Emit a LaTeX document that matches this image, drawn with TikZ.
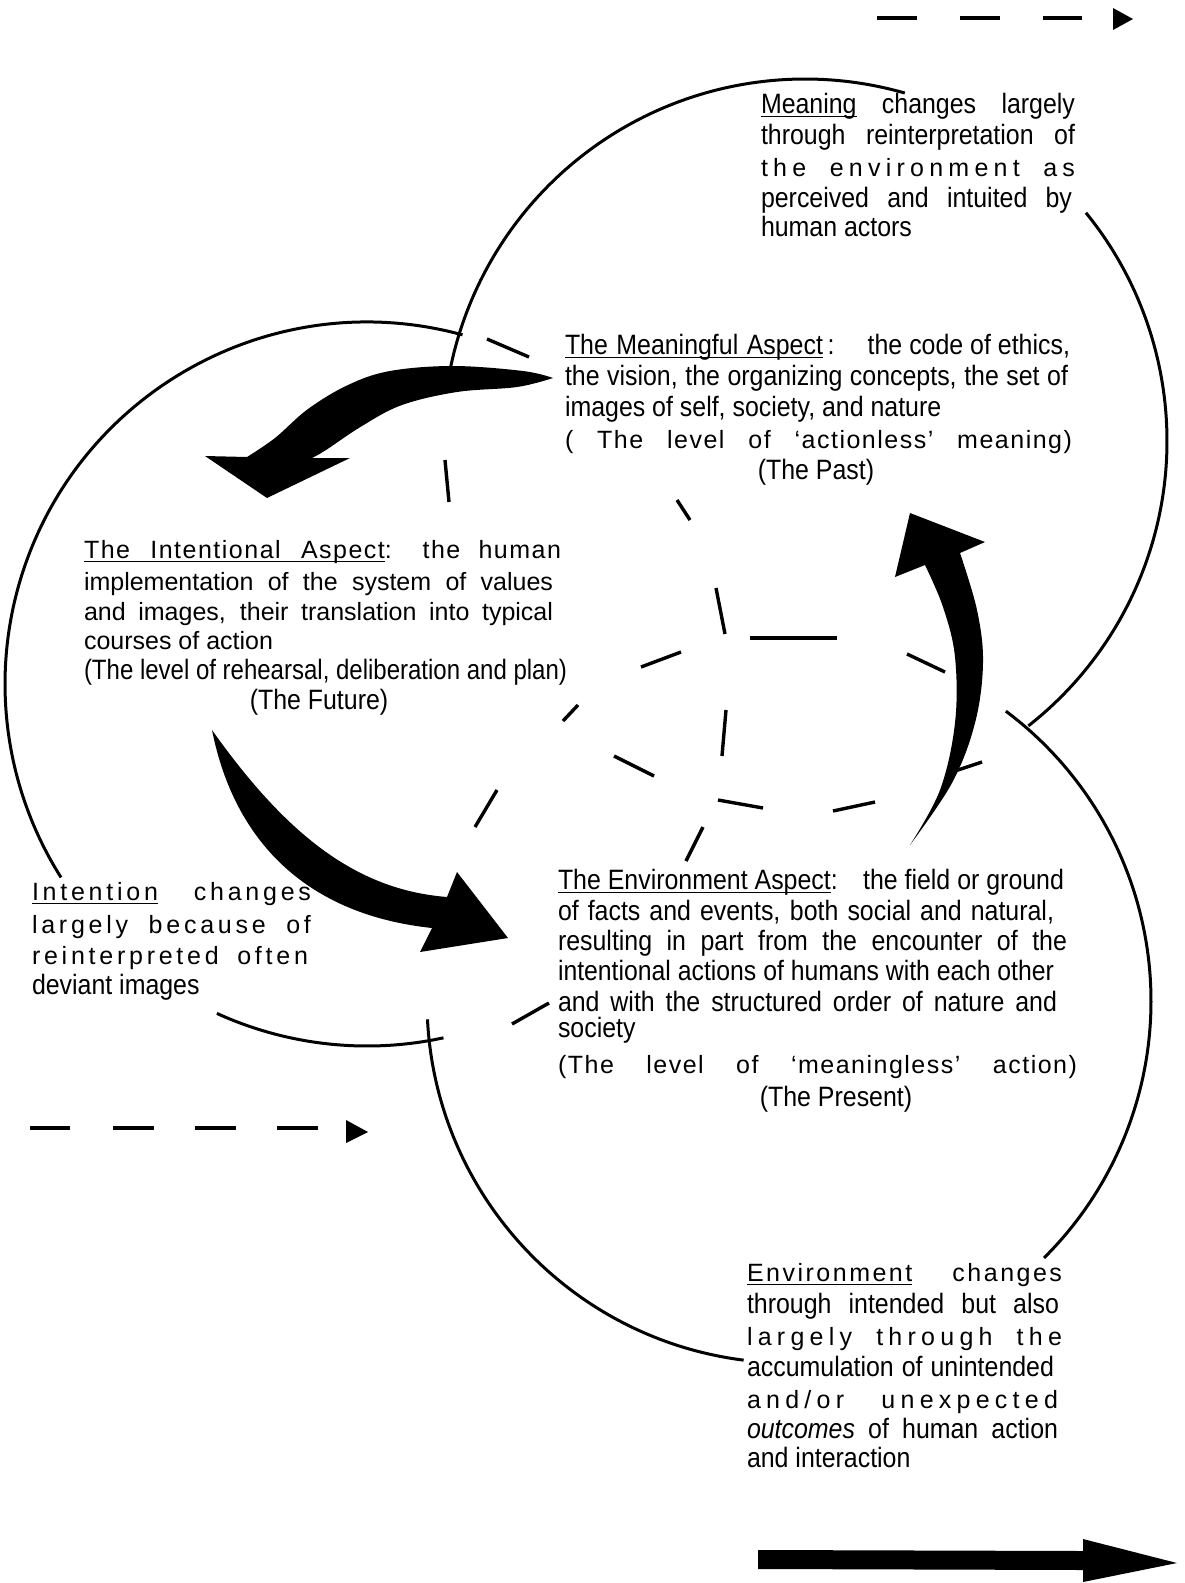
\documentclass[tikz,border=0pt]{standalone}
\usepackage{fontspec}
\usepackage{graphicx}
\setmainfont{Liberation Sans}
\newfontfamily\fnar{Liberation Sans}[FakeStretch=0.89]
\newfontfamily\fspa{Liberation Sans}[LetterSpace=6]
\newfontfamily\fspb{Liberation Sans}[LetterSpace=10]
\newfontfamily\fspc{Liberation Sans}[LetterSpace=15]
\newfontfamily\fspd{Liberation Sans}[LetterSpace=21]
\newfontfamily\freg{Liberation Sans}
\newlength\fitlen
\newcommand\fitline[2]{\settowidth\fitlen{#2}\ifdim\fitlen>#1\relax\resizebox{#1}{\height}{#2}\else\makebox[#1][s]{#2}\fi}
\newcommand\ulw[1]{\leavevmode\setbox0\hbox{#1}\rlap{\rule[-4pt]{\wd0}{1.4pt}}\box0\relax}
\tikzset{
  arcln/.style={line width=3pt},
  dsh/.style={line width=3.4pt},
  leg/.style={line width=4pt},
  nt/.style={inner sep=0pt, outer sep=0pt, anchor=base west, font=\fnar\fontsize{28}{31}\selectfont},
  sa/.style={nt, font=\fspa\fontsize{25}{31}\selectfont},
  sb/.style={nt, font=\fspb\fontsize{25}{31}\selectfont},
  st/.style={nt, font=\fspc\fontsize{25}{31}\selectfont},
  sd/.style={nt, font=\fspd\fontsize{25}{31}\selectfont},
  rt/.style={nt, font=\freg\fontsize{25}{31}\selectfont},
  ct/.style={nt, anchor=base},
  bigarrow/.style={fill=black},
}
\begin{document}
\begin{tikzpicture}[x=1pt, y=-1pt]
\fill[white] (0,0) rectangle (1185,1583);
\useasboundingbox (0,0) rectangle (1185,1583);

% ---- Meaning circle (centre 805,441) ----
\draw[arcln] (805,441) ++(168.8:362pt) arc[start angle=168.8, end angle=74, radius=362pt];
\draw[arcln] (805,441) ++(39.1:362pt) arc[start angle=39.1, end angle=-51.9, radius=362pt];
\draw[dsh] (445,460) -- (449,502);
\draw[dsh] (614,756) -- (654,776);
\draw[dsh] (718,800) -- (763,808);
\draw[dsh] (833,811) -- (875,802);
\draw[dsh] (952,772) -- (982,762);

% ---- Environment circle (centre 789,1001) ----
\draw[arcln] (789,1001) ++(53.2:362pt) arc[start angle=53.2, end angle=-45.2, radius=362pt];
\draw[arcln] (789,1001) ++(262.8:362pt) arc[start angle=262.8, end angle=182.9, radius=362pt];
\draw[dsh] (475,827) -- (497,790);
\draw[dsh] (563,721) -- (578,705);
\draw[dsh] (641,667) -- (681,652);
\draw[dsh] (750,638) -- (837,638);
\draw[dsh] (907,654) -- (945,672);

% ---- Intentional circle (centre 367,684) ----
\draw[arcln] (367,684) ++(74.7:362pt) arc[start angle=74.7, end angle=212.3, radius=362pt];
\draw[arcln] (367,684) ++(245.5:362pt) arc[start angle=245.5, end angle=282.2, radius=362pt];
\draw[dsh] (487,339) -- (529,357);
\draw[dsh] (677,500) -- (690,520);
\draw[dsh] (716,588) -- (725,634);
\draw[dsh] (726,710) -- (722,756);
\draw[dsh] (703,827) -- (686,861);
\draw[dsh] (549,1003) -- (512,1024);

% ---- big curved arrows ----
\fill[bigarrow] plot[smooth, tension=0.6] coordinates {(553,378) (523,371) (453,366) (390,371) (348,385) (308,409) (275,438) (247,457)}
  -- (205,456) -- (267,498) -- (350,458) --
  plot[smooth, tension=0.6] coordinates {(312,458) (326,450) (362,426) (402,405) (457,392) (517,387) (553,378)} -- cycle;

\fill[bigarrow] (212,730) .. controls (290,840) and (360,890) .. (447,897)
  -- (457,872) -- (508,938) -- (420,952) -- (432,928)
  .. controls (310,915) and (235,845) .. (212,730) -- cycle;

\fill[bigarrow] plot[smooth, tension=0.6] coordinates {(910,845) (940,790) (955,723) (955,657) (943,607) (925,565)}
  -- (895,577) -- (910,513) -- (985,542) --
  plot[smooth, tension=0.6] coordinates {(960,553) (977,610) (983,663) (975,723) (952,783) (910,845)} -- cycle;

% ---- legend arrows ----
\draw[leg] (877,18) -- (917,18);
\draw[leg] (960,18) -- (1000,18);
\draw[leg] (1043,18) -- (1082,18);
\fill (1113,8) -- (1133,19) -- (1113,30) -- cycle;

\draw[leg] (30,1128) -- (70,1128);
\draw[leg] (113,1128) -- (154,1128);
\draw[leg] (195,1128) -- (236,1128);
\draw[leg] (277,1128) -- (318,1128);
\fill (346,1120) -- (368,1132) -- (346,1143) -- cycle;

\fill (758,1550) -- (1083,1551) -- (1083,1539) -- (1177,1563) -- (1083,1582) -- (1083,1570) -- (758,1569) -- cycle;

% ---- Meaning text ----
\node[nt] (a1) at (761,113) {\fitline{314pt}{\ulw{Meaning} changes largely}};
\node[nt] (a2) at (761,144) {\fitline{314pt}{through reinterpretation of}};
\node[sd] (a3) at (761,176) {\fitline{314pt}{the environment as}};
\node[nt] (a4) at (761,207) {\fitline{311pt}{perceived and intuited by}};
\node[nt] (a5) at (761,236) {human actors};

% ---- Meaningful Aspect ----
\node[nt] (b1) at (565,354) {\fitline{505pt}{\ulw{\makebox[258pt][s]{The Meaningful Aspect}}\,:\hfill the code of ethics,}};
\node[nt] (b2) at (565,385) {\fitline{503pt}{the vision, the organizing concepts, the set of}};
\node[nt] (b3) at (565,416) {images of self, society, and nature};
\node[sa] (b4) at (565,448) {\fitline{507pt}{( The level of ‘actionless’ meaning)}};
\node[ct] (b5) at (816,479) {(The Past)};

% ---- Intentional Aspect ----
\node[sa] (c1) at (84,558) {\fitline{477pt}{\ulw{\makebox[301pt][s]{The Intentional Aspect}}: the human}};
\node[rt] (c2) at (84,590) {\fitline{469pt}{implementation of the system of values}};
\node[rt] (c3) at (84,620) {\fitline{469pt}{and images, their translation into typical}};
\node[rt] (c4) at (84,649) {courses of action};
\node[nt] (c5) at (84,679) {\fitline{483pt}{(The level of rehearsal, deliberation and plan)}};
\node[ct] (c6) at (319,709) {(The Future)};

% ---- Intention changes ----
\node[st] (d1) at (32,900) {\fitline{279pt}{\ulw{Intention} changes}};
\node[st] (d2) at (32,933) {\fitline{279pt}{largely because of}};
\node[st] (d3) at (32,964) {\fitline{276pt}{reinterpreted often}};
\node[nt] (d4) at (32,994) {deviant images};

% ---- Environment Aspect ----
\node[nt] (e1) at (558,889) {\fitline{506pt}{\ulw{The Environment Aspect}:\hfill the field or ground}};
\node[nt] (e2) at (558,920) {\fitline{496pt}{of facts and events, both social and natural,}};
\node[nt] (e3) at (558,950) {\fitline{509pt}{resulting in part from the encounter of the}};
\node[nt] (e4) at (558,980) {\fitline{496pt}{intentional actions of humans with each other}};
\node[nt] (e5) at (558,1011) {\fitline{499pt}{and with the structured order of nature and}};
\node[nt] (e6) at (558,1037) {society};
\node[sa] (e7) at (558,1073) {\fitline{519pt}{(The level of ‘meaningless’ action)}};
\node[ct] (e8) at (836,1106) {(The Present)};

% ---- Environment changes ----
\node[sb] (f1) at (747,1281) {\fitline{315pt}{\ulw{Environment} changes}};
\node[nt] (f2) at (747,1313) {\fitline{312pt}{through intended but also}};
\node[sd] (f3) at (747,1345) {\fitline{315pt}{largely through the}};
\node[nt] (f4) at (747,1376) {\fitline{307pt}{accumulation of unintended}};
\node[sd] (f5) at (747,1408) {\fitline{311pt}{and/or unexpected}};
\node[nt] (f6) at (747,1438) {\fitline{311pt}{\textit{outcomes} of human action}};
\node[nt] (f7) at (747,1467) {and interaction};
\end{tikzpicture}
\end{document}
